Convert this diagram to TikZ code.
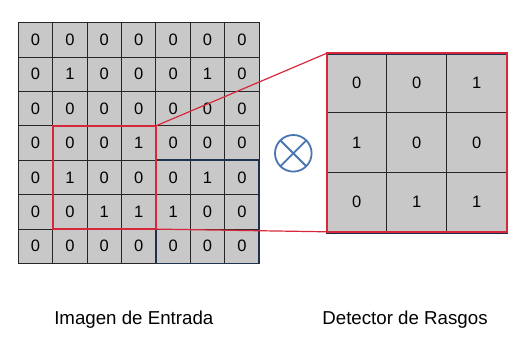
\documentclass[tikz,border=0pt]{standalone}
\usepackage{fontspec}
\setmainfont{Liberation Sans}
\definecolor{cellgray}{RGB}{200,200,200}
\definecolor{winred}{RGB}{214,40,58}
\definecolor{winblue}{RGB}{30,50,78}
\definecolor{opblue}{RGB}{72,118,178}

\begin{document}
\begin{tikzpicture}[x=1pt, y=-1pt,
  cell/.style={draw=black!85, line width=1.1pt, fill=cellgray, inner sep=0pt, outer sep=0pt,
    font=\fontsize{16.5}{18}\selectfont},
  incell/.style={cell, minimum size=34.4pt},
  kcell/.style={cell, minimum width=60pt, minimum height=59.5pt}]
\useasboundingbox (0,0) rectangle (519,347);
\fill [white] (0,0) rectangle (519,347);
% input image 7x7
\foreach \row [count=\r from 0] in {{0,0,0,0,0,0,0},{0,1,0,0,0,1,0},{0,0,0,0,0,0,0},{0,0,0,1,0,0,0},{0,1,0,0,0,1,0},{0,0,1,1,1,0,0},{0,0,0,0,0,0,0}}
  \foreach \v [count=\c from 0] in \row
    \node [incell] (in-\r-\c) at ({18.3+34.4*(\c+0.5)},{22.7+34.4*(\r+0.5)}) {\v};
% feature detector 3x3
\foreach \row [count=\r from 0] in {{0,0,1},{1,0,0},{0,1,1}}
  \foreach \v [count=\c from 0] in \row
    \node [kcell] (k-\r-\c) at ({326.7+60*(\c+0.5)},{53.3+59.5*(\r+0.5)}) {\v};
% windows
\draw [winblue, line width=1.8pt] (in-4-4.north west) rectangle (in-6-6.south east);
\draw [winblue, line width=1.8pt] ([yshift=-1pt]k-0-0.north west) rectangle ([yshift=-1pt]k-2-2.south east);
\draw [winred, line width=1.8pt] (in-3-1.north west) rectangle (in-5-3.south east);
\draw [winred, line width=1.8pt] (k-0-0.north west) rectangle (k-2-2.south east);
\draw [winred, line width=1.2pt] (in-3-3.north east) -- (k-0-0.north west);
\draw [winred, line width=1.2pt] (in-5-3.south east) -- (k-2-0.south west);
% convolution sign
\node [circle, draw=opblue, line width=1.8pt, minimum size=36.6pt, inner sep=0pt, outer sep=0pt] (conv) at (293.3,153.3) {};
\draw [opblue, line width=1.8pt] (conv.north east) -- (conv.south west);
\draw [opblue, line width=1.8pt] (conv.north west) -- (conv.south east);
% captions
\node [anchor=base, inner sep=0pt, font=\fontsize{18.7}{20}\selectfont] (inlabel) at (133.8,324.3) {Imagen de Entrada};
\node [anchor=base, inner sep=0pt, font=\fontsize{18.7}{20}\selectfont] (klabel) at (405,324.3) {Detector de Rasgos};
\end{tikzpicture}
\end{document}
